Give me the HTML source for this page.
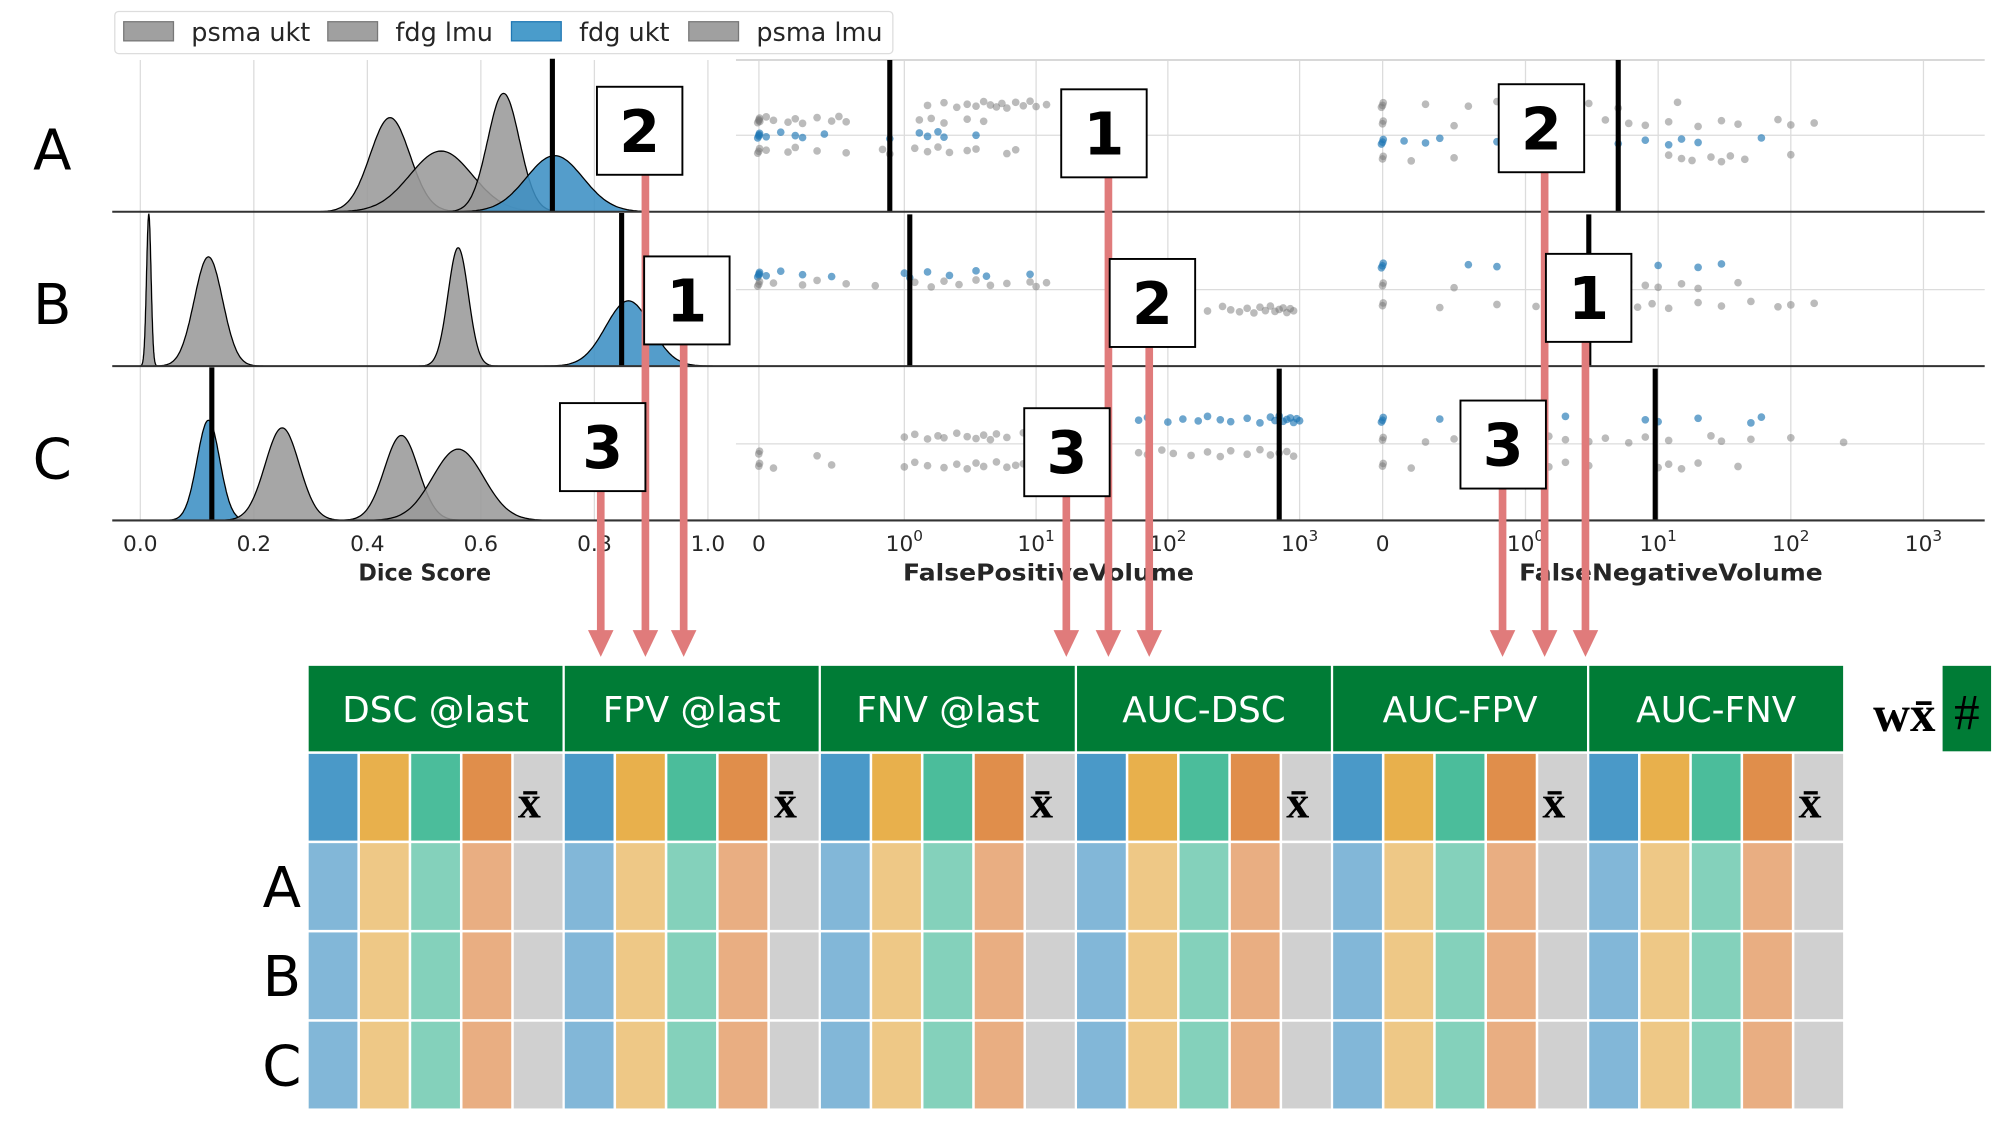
<!DOCTYPE html>
<html><head><meta charset="utf-8"><style>
html,body{margin:0;padding:0;background:#fff;}
svg{display:block;}
</style></head><body>
<svg id="fig" width="2000" height="1134" viewBox="0 0 1568 889" xmlns="http://www.w3.org/2000/svg" font-family="DejaVu Sans, Liberation Sans, sans-serif">
<g id="ridge"></g>
<g id="scatter"></g>
<g id="arrows"></g>
<g id="boxes"></g>
<g id="table"></g>
<g id="legend"></g>
</svg>
<script>
// ---------- data ----------
const rowNames = ['A','B','C'];
const diceTicks = [0,0.2,0.4,0.6,0.8,1.0];
const diceTickLabels = ['0.0','0.2','0.4','0.6','0.8','1.0'];
// ridge curves: [row, series, peak position, spread, peak height(fraction of row)]
const ridgeRowA = [[0,'gray',0.44,0.035,0.62],[0,'gray',0.53,0.055,0.40],[0,'gray',0.64,0.028,0.78],[0,'blue',0.73,0.05,0.37]];
const ridgeRowB = [[1,'gray',0.015,0.004,1.0],[1,'gray',0.12,0.025,0.72],[1,'gray',0.56,0.018,0.78],[1,'blue',0.86,0.04,0.43]];
const ridgeRowC = [[2,'blue',0.12,0.02,0.66],[2,'gray',0.25,0.03,0.61],[2,'gray',0.46,0.03,0.56],[2,'gray',0.56,0.045,0.47]];
const diceMedians = [0.726,0.848,0.126];
const volTicks = [0,1,10,100,1000];
const fpvMedians = [0.9,1.1,700];
const fnvMedians = [5,3,9.5];
// strips: [row, color, yOffset-class, values]
const fpvStrips = [
 [0,'gray',-1,[0,0,0,0,0,0.05,0.1,0.2,0.25,0.3,0.4,0.5,0.55,0.6,1.3,1.6,2,3,4]],
 [0,'gray',-2,[1.5,2,2.5,3,3.5,4,4.5,5,5.5,6,7,8,9,10,12]],
 [0,'blue',0,[0,0,0,0,0.05,0.15,0.25,0.3,0.45,0.9,1.3,1.5,1.8,2,3.5]],
 [0,'gray',1,[0,0,0,0.05,0.2,0.25,0.4,0.6,0.85,0.9,1.2,1.5,1.8,2.2,3,3.5,6,7]],
 [1,'blue',-1,[0,0,0,0,0.05,0.15,0.3,0.5,1.0,1.1,1.5,2.2,3.5,4.2,9]],
 [1,'gray',-0.4,[0,0,0,0.1,0.3,0.4,0.6,0.8,1.2,1.6,2,2.6,3.5,4.5,6,9,10,12]],
 [1,'gray',1.3,[60,80,100,140,200,260,300,350,400,450,500,550,600,650,700,750,800,850,900]],
 [2,'blue',-1.6,[60,70,100,130,170,200,250,300,400,500,600,650,700,750,800,850,900,950,1000]],
 [2,'gray',-0.5,[1,1.2,1.5,1.8,2,2.5,3,3.5,4,4.5,5,6,8]],
 [2,'gray',0.6,[0,0,0.4,60,70,90,110,150,200,250,300,400,500,600,700,800,900]],
 [2,'gray',1.4,[0,0,0.1,0.5,1,1.2,1.5,2,2.5,3,3.5,4,5,6,7,8]]
];
const fnvStrips = [
 [0,'gray',-2,[0,0,0,0.3,0.6,0.8,1.1,2.5,3,5,14]],
 [0,'gray',-0.8,[0,0,0.5,1.5,2,4,6,8,12,20,30,40,80,100,150]],
 [0,'blue',0.4,[0,0,0,0.15,0.3,0.4,0.8,5,8,12,15,20,60]],
 [0,'gray',1.5,[0,0,0.2,0.5,1.5,12,15,18,25,30,35,45,100]],
 [1,'blue',-1.6,[0,0,0,0.6,0.8,1.5,10,20,30]],
 [1,'gray',-0.3,[0,0,0.5,1.5,3,6,8,10,15,20,40]],
 [1,'gray',1.0,[0,0,0.4,0.8,1.2,2,4,7,9,12,20,30,50,80,100,150]],
 [2,'blue',-1.6,[0,0,0,0.4,0.6,2,8,10,20,50,60]],
 [2,'gray',-0.3,[0,0,0.3,0.5,1.2,1.5,2,3,4,6,8,12,25,30,50,100,250]],
 [2,'gray',1.4,[0,0,0.2,0.6,1.5,2,3,10,12,15,20,40]]
];
const jitter = [0.2,-0.5,0.7,-0.1,0.4,-0.8,0.1,0.6,-0.3,0.9,-0.6,0.3,-0.9,0.5,0,-0.4,0.8,-0.2,0.35];
const headers = ['DSC @last','FPV @last','FNV @last','AUC-DSC','AUC-FPV','AUC-FNV'];
const strongColors = ['#4a99c8','#e8b04c','#4bbd9b','#e08e4b','#d0d0d0'];
const lightColors = ['#82b7d8','#eec886','#84d1bb','#e9ae82','#d0d0d0'];
// rank boxes: [panel, row, rank]
const rankBoxes = [[0,0,'2'],[0,1,'1'],[0,2,'3'],[1,0,'1'],[1,1,'2'],[1,2,'3'],[2,0,'2'],[2,1,'1'],[2,2,'3']];
const legendItems = [['psma ukt','gray'],['fdg lmu','gray'],['fdg ukt','blue'],['psma lmu','gray']];

// ---------- helpers ----------
const NS='http://www.w3.org/2000/svg';
function mk(parent,tag,attrs,text){const e=document.createElementNS(NS,tag);for(const k in attrs)e.setAttribute(k,attrs[k]);if(text!==undefined)e.textContent=text;parent.appendChild(e);return e;}
const rowBase=[166,287,408], rowCenter=[106,227,348], topY=47;
const diceX=v=>110+v*445;
const fpvX=v=>v<=1?595+v*114:709+Math.log10(v)*103.3;
const fnvX=v=>v<=1?1084+v*112:1196+Math.log10(v)*104;
const ridge=document.getElementById('ridge');
const scatter=document.getElementById('scatter');

// ridge grid
diceTicks.forEach((t,i)=>{
 const g=mk(ridge,'line',{x1:diceX(t),x2:diceX(t),y1:topY,y2:408,stroke:'#dcdcdc','stroke-width':1});
 
 const l=mk(ridge,'text',{x:diceX(t),y:432,'font-size':17,'text-anchor':'middle',fill:'#262626'},diceTickLabels[i]);
 
});
// volume grid
[[fpvX],[fnvX]].forEach(([fx],p)=>{
 volTicks.forEach(t=>{
  const g=mk(scatter,'line',{x1:fx(t),x2:fx(t),y1:topY,y2:408,stroke:'#dcdcdc','stroke-width':1});
  
  const tx=mk(scatter,'text',{x:fx(t),y:432,'font-size':17,'text-anchor':'middle',fill:'#262626'});
  
  if(t===0){tx.textContent='0';}else{
   const e=Math.round(Math.log10(t));
   mk(tx,'tspan',{},'10');mk(tx,'tspan',{dy:-8,'font-size':12},String(e));}
 });
});
rowCenter.forEach(y=>{const l=mk(scatter,'line',{x1:577,x2:1556,y1:y,y2:y,stroke:'#dcdcdc','stroke-width':1});});
const tl=mk(scatter,'line',{x1:577,x2:1556,y1:topY,y2:topY,stroke:'#d8d8d8','stroke-width':1.5});


// ridge curves
[ridgeRowA,ridgeRowB,ridgeRowC].forEach(curves=>{
 curves.forEach(([r,c,mu,sd,h])=>{
  const base=rowBase[r];let d='';
  const lo=Math.max(-0.01,mu-4.5*sd),hi=mu+4.5*sd;
  for(let k=0;k<=120;k++){const v=lo+(hi-lo)*k/120;const y=base-h*119*Math.exp(-0.5*((v-mu)/sd)**2);d+=(k?'L':'M')+diceX(v).toFixed(1)+','+y.toFixed(1);}
  d+='Z';
  const p=mk(ridge,'path',{d:d,fill:c==='blue'?'#3c8fc4':'#9a9a9a','fill-opacity':0.88,stroke:'#000','stroke-width':1});
  
  
 });
});
diceMedians.forEach((m,r)=>{const l=mk(ridge,'line',{x1:diceX(m),x2:diceX(m),y1:rowBase[r]-120,y2:rowBase[r],stroke:'#000','stroke-width':4});});

// strip points
function drawStrips(strips,fx,nm){
 strips.forEach(([r,c,off,vals])=>{
  vals.forEach((v,i)=>{
   const y=rowCenter[r]+off*12+jitter[i%jitter.length]*3;
   const pt=mk(scatter,'circle',{cx:fx(v)+(v===0?jitter[(i+3)%jitter.length]*1.2:0),cy:y,r:3,fill:c==='blue'?'#1f77b4':'#777','fill-opacity':c==='blue'?0.65:0.5});
   
   
  });
 });
}
drawStrips(fpvStrips,fpvX,'fpv');
drawStrips(fnvStrips,fnvX,'fnv');
fpvMedians.forEach((m,r)=>{const l=mk(scatter,'line',{x1:fpvX(m),x2:fpvX(m),y1:rowBase[r]-119,y2:rowBase[r],stroke:'#000','stroke-width':4});});
fnvMedians.forEach((m,r)=>{const l=mk(scatter,'line',{x1:fnvX(m),x2:fnvX(m),y1:rowBase[r]-119,y2:rowBase[r],stroke:'#000','stroke-width':4});});

// row separators and labels
rowBase.forEach(y=>{const l=mk(scatter,'line',{x1:88,x2:1556,y1:y,y2:y,stroke:'#333','stroke-width':1.6});});
rowNames.forEach((n,r)=>{const t=mk(ridge,'text',{x:41,y:rowCenter[r]+27,'font-size':44,'text-anchor':'middle',fill:'#000'},n);});
[['Dice Score',333,104],['FalsePositiveVolume',822,228],['FalseNegativeVolume',1310,238]].forEach(([s,x,w])=>{const t=mk(scatter,'text',{x:x,y:455,'font-size':18,'font-weight':'bold','text-anchor':'middle',fill:'#262626',textLength:w,lengthAdjust:'spacingAndGlyphs'},s);});

// rank boxes & arrows
const boxPos=[[[468,68],[505,201],[439,316]],[[832,70],[870,203],[803,320]],[[1175,66],[1212,199],[1145,314]]];
const arrowX={'0_2':506,'0_1':536,'0_3':471,'1_1':869,'1_2':901,'1_3':836,'2_2':1211,'2_1':1243,'2_3':1178};
const arrows=document.getElementById('arrows'),boxes=document.getElementById('boxes');
rankBoxes.forEach(([p,r,k])=>{
 const [bx,by]=boxPos[p][r];const ax=arrowX[p+'_'+k];
 const l=mk(arrows,'line',{x1:ax,x2:ax,y1:by+68,y2:496,stroke:'#e07b7b','stroke-width':6});
 
 const h=mk(arrows,'polygon',{points:`${ax-10},494 ${ax+10},494 ${ax},515`,fill:'#e07b7b'});
 
 const g=mk(boxes,'g',{});
 mk(g,'rect',{x:bx,y:by,width:67,height:69,fill:'#fff',stroke:'#000','stroke-width':1.5});
 mk(g,'text',{x:bx+33.5,y:by+51,'font-size':46,'font-weight':'bold','text-anchor':'middle',fill:'#000'},k);
});

// table
const table=document.getElementById('table');
const rowsY=[591,661,731,801];
headers.forEach((hname,g)=>{
 const gx=242+g*200.8;
 const hr=mk(table,'rect',{x:gx,y:522,width:199,height:67,fill:'#007c36'});
 
 const ht=mk(table,'text',{x:gx+99.5,y:566,'font-size':28,'text-anchor':'middle',fill:'#fff'},hname);
 
 rowsY.forEach((y,ri)=>{
  strongColors.forEach((c,ci)=>{
   const cx=gx+ci*40.2;
   const cell=mk(table,'rect',{x:cx,y:y,width:38.2,height:68,fill:ri===0?c:lightColors[ci]});
   
   
  });
 });
 const xb=mk(table,'text',{x:gx+173,y:641,'font-size':36,'font-weight':'bold','font-family':'Liberation Serif, serif','text-anchor':'middle',fill:'#000'},'x̄');
 
});
rowNames.forEach((n,r)=>{const t=mk(table,'text',{x:221,y:rowsY[r+1]+50,'font-size':44,'text-anchor':'middle',fill:'#000'},n);});
const wx=mk(table,'text',{x:1493,y:573,'font-size':40,'font-weight':'bold','font-family':'Liberation Serif, serif','text-anchor':'middle',fill:'#000'},'wx̄');

const hb=mk(table,'rect',{x:1523,y:522,width:38,height:67,fill:'#007c36'});

const hs=mk(table,'text',{x:1542,y:572,'font-size':40,'font-family':'Liberation Serif, serif','text-anchor':'middle',fill:'#000'},'#');


// legend
const lg=document.getElementById('legend');
const lb=mk(lg,'rect',{x:90,y:9,width:610,height:33,rx:3,fill:'#fff',stroke:'#dddddd','stroke-width':1});

const lx=[97,257,401,540];
legendItems.forEach(([s,c],i)=>{
 const g=mk(lg,'g',{});
 mk(g,'rect',{x:lx[i],y:17,width:39,height:15,fill:c==='blue'?'#4a9ccb':'#a0a0a0',stroke:c==='blue'?'#1f77b4':'#777','stroke-width':1});
 mk(g,'text',{x:lx[i]+53,y:32,'font-size':20,fill:'#262626'},s);
});
</script>
</body></html>
